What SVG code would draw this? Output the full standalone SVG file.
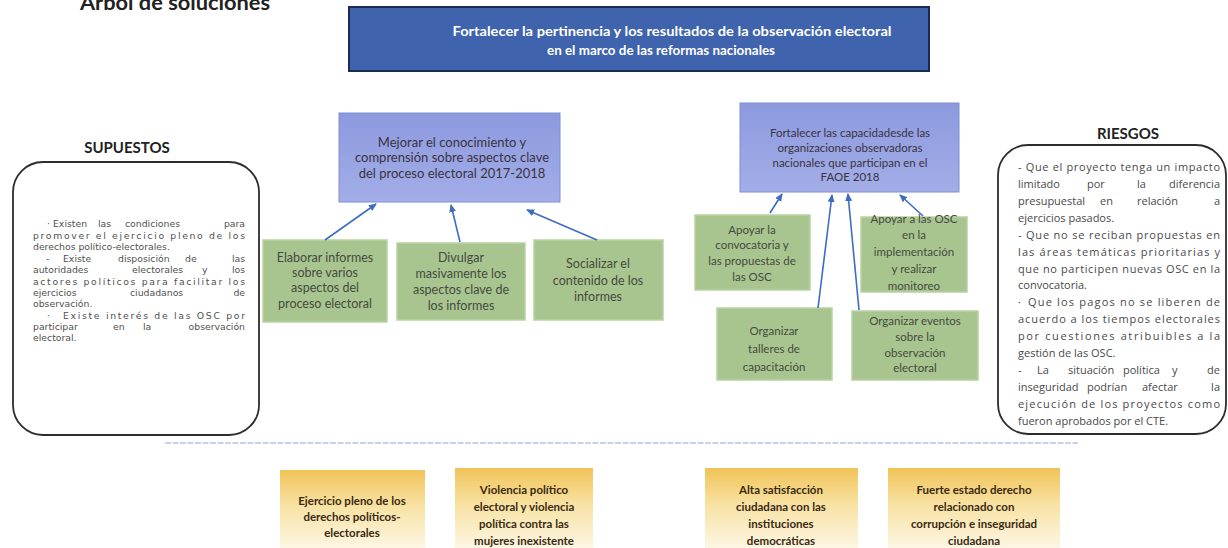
<svg xmlns="http://www.w3.org/2000/svg" width="1228" height="548" viewBox="0 0 1228 548">
<defs>
<linearGradient id="gBlue" x1="0" y1="0" x2="0" y2="1"><stop offset="0" stop-color="#8c99de"/><stop offset="1" stop-color="#a3aee8"/></linearGradient>
<linearGradient id="gYel" x1="0" y1="0" x2="0" y2="1"><stop offset="0" stop-color="#f1c357"/><stop offset="0.45" stop-color="#f8e2a4"/><stop offset="1" stop-color="#fdf7e6"/></linearGradient>
<marker id="ah" markerWidth="8" markerHeight="8" refX="7" refY="4" orient="auto" markerUnits="userSpaceOnUse"><path d="M0,0.5 L8,4 L0,7.5 z" fill="#3e6cc2"/></marker>
<style>
.f{font-family:Lato,"Open Sans","Liberation Sans",sans-serif}
.main{fill:#3f64ad;stroke:#1d2950;stroke-width:2}
.mid{fill:url(#gBlue);stroke:#7f8fd6;stroke-width:1}
.grn{fill:#a8c58f;stroke:#b9d2a3;stroke-width:1.5}
.yel{fill:url(#gYel)}
.rnd{fill:#fff;stroke:#2d2d2d;stroke-width:1.8}
.wt{font-family:Lato,"Open Sans",sans-serif;font-weight:bold;font-size:12.5px;fill:#fff;text-anchor:middle}
.mt{font-family:Lato,"Open Sans",sans-serif;font-size:13px;fill:#3a3340;text-anchor:middle}
.mt2{font-family:Lato,"Open Sans",sans-serif;font-size:11.5px;fill:#3a3340;text-anchor:middle}
.gt{font-family:Lato,"Open Sans",sans-serif;font-size:12.5px;fill:#454a40;text-anchor:middle}
.gt2{font-family:Lato,"Open Sans",sans-serif;font-size:11.5px;fill:#454a40;text-anchor:middle}
.yt{font-family:Lato,"Open Sans",sans-serif;font-weight:bold;font-size:11.5px;fill:#3a2a10;text-anchor:middle}
.hd{font-family:Lato,"Open Sans",sans-serif;font-weight:bold;font-size:15px;fill:#222;text-anchor:middle}
.st{font-family:"DejaVu Sans","Open Sans",sans-serif;font-size:9.3px;fill:#505050}
.rt{font-family:"Open Sans",Lato,sans-serif;font-size:11px;fill:#4a4a4a}
.e{text-anchor:end}
.cn{stroke:#3e6cc2;stroke-width:1.6;fill:none;marker-end:url(#ah)}
</style>
</defs>
<rect width="1228" height="548" fill="#fff"/>

<text class="f" x="80" y="10" font-size="20" font-weight="bold" fill="#222" textLength="190" lengthAdjust="spacingAndGlyphs">Árbol de soluciones</text>

<g id="goal">
<rect class="main" x="349" y="7" width="580" height="64"/>
<text class="wt" x="672" y="36" textLength="439" lengthAdjust="spacingAndGlyphs">Fortalecer la pertinencia y los resultados de la observación electoral</text>
<text class="wt" x="661" y="55" textLength="228" lengthAdjust="spacingAndGlyphs">en el marco de las reformas nacionales</text>
</g>

<g id="obj1">
<rect class="mid" x="339" y="113" width="221" height="89"/>
<text class="mt" x="452" y="147">Mejorar el conocimiento y</text>
<text class="mt" x="452" y="162">comprensión sobre aspectos clave</text>
<text class="mt" x="452" y="178">del proceso electoral 2017-2018</text>
</g>

<g id="obj2">
<rect class="mid" x="740" y="103" width="219" height="89"/>
<text class="mt2" x="850" y="137">Fortalecer las capacidadesde las</text>
<text class="mt2" x="850" y="152">organizaciones observadoras</text>
<text class="mt2" x="850" y="167">nacionales que participan en el</text>
<text class="mt2" x="850" y="181">FAOE 2018</text>
</g>

<g id="a1">
<rect class="grn" x="263" y="240" width="124" height="82"/>
<text class="gt" x="325" y="262">Elaborar informes</text>
<text class="gt" x="325" y="277">sobre varios</text>
<text class="gt" x="325" y="292">aspectos del</text>
<text class="gt" x="325" y="308">proceso electoral</text>
</g>
<g id="a2">
<rect class="grn" x="397" y="243" width="128" height="77"/>
<text class="gt" x="461" y="262">Divulgar</text>
<text class="gt" x="461" y="278">masivamente los</text>
<text class="gt" x="461" y="294">aspectos clave de</text>
<text class="gt" x="461" y="310">los informes</text>
</g>
<g id="a3">
<rect class="grn" x="534" y="240" width="129" height="80"/>
<text class="gt" x="598" y="268">Socializar el</text>
<text class="gt" x="598" y="285">contenido de los</text>
<text class="gt" x="598" y="301">informes</text>
</g>

<g id="b1">
<rect class="grn" x="695" y="215" width="115" height="75"/>
<text class="gt2" x="752" y="234">Apoyar la</text>
<text class="gt2" x="752" y="249">convocatoria y</text>
<text class="gt2" x="752" y="265">las propuestas de</text>
<text class="gt2" x="752" y="281">las OSC</text>
</g>
<g id="b2">
<rect class="grn" x="861" y="217" width="106" height="75"/>
<text class="gt2" x="914" y="223">Apoyar a las OSC</text>
<text class="gt2" x="914" y="239">en la</text>
<text class="gt2" x="914" y="256">implementación</text>
<text class="gt2" x="914" y="273">y realizar</text>
<text class="gt2" x="914" y="290">monitoreo</text>
</g>
<g id="b3">
<rect class="grn" x="717" y="308" width="115" height="72"/>
<text class="gt2" x="774" y="335">Organizar</text>
<text class="gt2" x="774" y="353">talleres de</text>
<text class="gt2" x="774" y="371">capacitación</text>
</g>
<g id="b4">
<rect class="grn" x="852" y="311" width="126" height="69"/>
<text class="gt2" x="915" y="325">Organizar eventos</text>
<text class="gt2" x="915" y="341">sobre la</text>
<text class="gt2" x="915" y="357">observación</text>
<text class="gt2" x="915" y="372">electoral</text>
</g>

<g id="connectors">
<line class="cn" x1="325" y1="240" x2="376" y2="204"/>
<line class="cn" x1="460" y1="242" x2="451" y2="205"/>
<line class="cn" x1="597" y1="240" x2="527" y2="210"/>
<line class="cn" x1="770" y1="213" x2="782" y2="194"/>
<line class="cn" x1="818" y1="308" x2="832" y2="195"/>
<line class="cn" x1="859" y1="310" x2="848" y2="194"/>
<line class="cn" x1="923" y1="216" x2="900" y2="195"/>
</g>

<g id="supuestos">
<text class="hd" x="127" y="153">SUPUESTOS</text>
<rect class="rnd" x="13" y="162" width="246" height="273" rx="30"/>
<text class="st" x="47" y="227">·</text><text class="st" x="53" y="227">Existen</text><text class="st" x="98" y="227">las</text><text class="st" x="125" y="227">condiciones</text><text class="st e" x="245" y="227">para</text>
<text class="st" x="33" y="238.5" textLength="212" lengthAdjust="spacing">promover el ejercicio pleno de los</text>
<text class="st" x="33" y="250">derechos político-electorales.</text>
<text class="st" x="46" y="261.5">-</text><text class="st" x="63" y="261.5">Existe</text><text class="st" x="118" y="261.5">disposición</text><text class="st" x="185" y="261.5">de</text><text class="st e" x="245" y="261.5">las</text>
<text class="st" x="33" y="273">autoridades</text><text class="st" x="132" y="273">electorales</text><text class="st" x="202" y="273">y</text><text class="st e" x="245" y="273">los</text>
<text class="st" x="33" y="284.5" textLength="212" lengthAdjust="spacing">actores políticos para facilitar los</text>
<text class="st" x="33" y="296">ejercicios</text><text class="st" x="130" y="296">ciudadanos</text><text class="st e" x="245" y="296">de</text>
<text class="st" x="33" y="307">observación.</text>
<text class="st" x="47" y="318.5">·</text><text class="st" x="63" y="318.5" textLength="182" lengthAdjust="spacing">Existe interés de las OSC por</text>
<text class="st" x="33" y="330">participar</text><text class="st" x="113" y="330">en</text><text class="st" x="143" y="330">la</text><text class="st e" x="245" y="330">observación</text>
<text class="st" x="33" y="341">electoral.</text>
</g>

<g id="riesgos">
<text class="hd" x="1128" y="139">RIESGOS</text>
<rect class="rnd" x="998" y="145" width="228" height="289" rx="30"/>
<text class="rt" x="1018" y="171" textLength="202" lengthAdjust="spacing">- Que el proyecto tenga un impacto</text>
<text class="rt" x="1018" y="188">limitado</text><text class="rt" x="1087" y="188">por</text><text class="rt" x="1137" y="188">la</text><text class="rt e" x="1220" y="188">diferencia</text>
<text class="rt" x="1018" y="205">presupuestal</text><text class="rt" x="1100" y="205">en</text><text class="rt" x="1137" y="205">relación</text><text class="rt e" x="1220" y="205">a</text>
<text class="rt" x="1018" y="222">ejercicios pasados.</text>
<text class="rt" x="1018" y="239" textLength="202" lengthAdjust="spacing">- Que no se reciban propuestas en</text>
<text class="rt" x="1018" y="256" textLength="202" lengthAdjust="spacing">las áreas temáticas prioritarias y</text>
<text class="rt" x="1018" y="273" textLength="202" lengthAdjust="spacing">que no participen nuevas OSC en la</text>
<text class="rt" x="1018" y="289">convocatoria.</text>
<text class="rt" x="1018" y="306">·</text><text class="rt" x="1028" y="306" textLength="192" lengthAdjust="spacing">Que los pagos no se liberen de</text>
<text class="rt" x="1018" y="323" textLength="202" lengthAdjust="spacing">acuerdo a los tiempos electorales</text>
<text class="rt" x="1018" y="340" textLength="202" lengthAdjust="spacing">por cuestiones atribuibles a la</text>
<text class="rt" x="1018" y="357">gestión de las OSC.</text>
<text class="rt" x="1018" y="374">-</text><text class="rt" x="1037" y="374">La</text><text class="rt" x="1068" y="374">situación</text><text class="rt" x="1123" y="374">política</text><text class="rt" x="1172" y="374">y</text><text class="rt e" x="1220" y="374">de</text>
<text class="rt" x="1018" y="391">inseguridad</text><text class="rt" x="1087" y="391">podrían</text><text class="rt" x="1142" y="391">afectar</text><text class="rt e" x="1220" y="391">la</text>
<text class="rt" x="1018" y="408" textLength="202" lengthAdjust="spacing">ejecución de los proyectos como</text>
<text class="rt" x="1018" y="425">fueron aprobados por el CTE.</text>
</g>

<line x1="165" y1="443" x2="1078" y2="443" stroke="#8fa6dc" stroke-width="1" stroke-dasharray="6 1.5"/>

<g id="y1">
<rect class="yel" x="280" y="470" width="145" height="80"/>
<text class="yt" x="352" y="505">Ejercicio pleno de los</text>
<text class="yt" x="352" y="521">derechos políticos-</text>
<text class="yt" x="352" y="537">electorales</text>
</g>
<g id="y2">
<rect class="yel" x="455" y="468" width="138" height="82"/>
<text class="yt" x="524" y="494">Violencia político</text>
<text class="yt" x="524" y="511">electoral y violencia</text>
<text class="yt" x="524" y="528">política contra las</text>
<text class="yt" x="524" y="545">mujeres inexistente</text>
</g>
<g id="y3">
<rect class="yel" x="705" y="468" width="153" height="82"/>
<text class="yt" x="781" y="494">Alta satisfacción</text>
<text class="yt" x="781" y="511">ciudadana con las</text>
<text class="yt" x="781" y="528">instituciones</text>
<text class="yt" x="781" y="545">democráticas</text>
</g>
<g id="y4">
<rect class="yel" x="888" y="468" width="172" height="82"/>
<text class="yt" x="974" y="494">Fuerte estado derecho</text>
<text class="yt" x="974" y="511">relacionado con</text>
<text class="yt" x="974" y="528">corrupción e inseguridad</text>
<text class="yt" x="974" y="545">ciudadana</text>
</g>
</svg>
